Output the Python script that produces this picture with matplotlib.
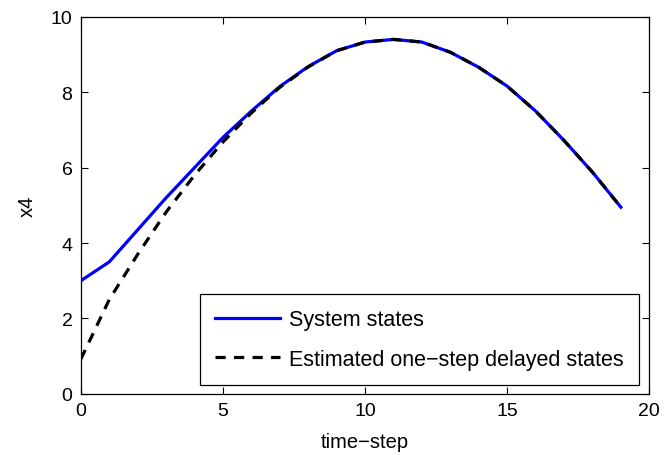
import numpy as np
import matplotlib
matplotlib.use("Agg")
import matplotlib.pyplot as plt

plt.rcParams['font.family'] = ['Liberation Sans', 'DejaVu Sans']

# time steps and the two state traces
steps = np.arange(20)
system_states = [3.0, 3.5, 4.35, 5.2, 6.0, 6.8, 7.5, 8.15, 8.68, 9.1,
                 9.33, 9.4, 9.33, 9.06, 8.66, 8.16, 7.5, 6.72, 5.88, 4.95]
estimated_states = [0.92, 2.5, 3.7, 4.82, 5.8, 6.68, 7.45, 8.13, 8.67, 9.1,
                    9.33, 9.4, 9.33, 9.06, 8.66, 8.16, 7.5, 6.72, 5.88, 4.95]

fig = plt.figure(figsize=(6.68, 4.56), dpi=100)
ax = fig.add_axes([0.121, 0.134, 0.851, 0.827])

ax.plot(steps, system_states, color='#0000ff', lw=2.3, label='System states')
est, = ax.plot(steps, estimated_states, color='black', lw=2.3, ls='--',
               label='Estimated one\u2212step delayed states')
est.set_dashes((3.2, 2.6))

ax.set_xlim(0, 20)
ax.set_ylim(0, 10)
ax.set_xticks([0, 5, 10, 15, 20])
ax.set_yticks([0, 2, 4, 6, 8, 10])
for s in ax.spines.values():
    s.set_linewidth(0.9)
ax.tick_params(direction='in', top=True, right=True, length=5, width=0.8,
               labelsize=14, pad=6)
ax.set_xlabel('time\u2212step', fontsize=14.5, labelpad=9)
ax.set_ylabel('x4', fontsize=14.5, labelpad=10)

leg = ax.legend(loc='lower right', bbox_to_anchor=(0.982, 0.024),
                borderaxespad=0, fontsize=15.5, fancybox=False,
                edgecolor='black', framealpha=1, handlelength=3.05,
                handletextpad=0.42, labelspacing=0.85, borderpad=0.7)
leg.get_frame().set_linewidth(0.9)

fig.savefig('out.png', dpi=100)
